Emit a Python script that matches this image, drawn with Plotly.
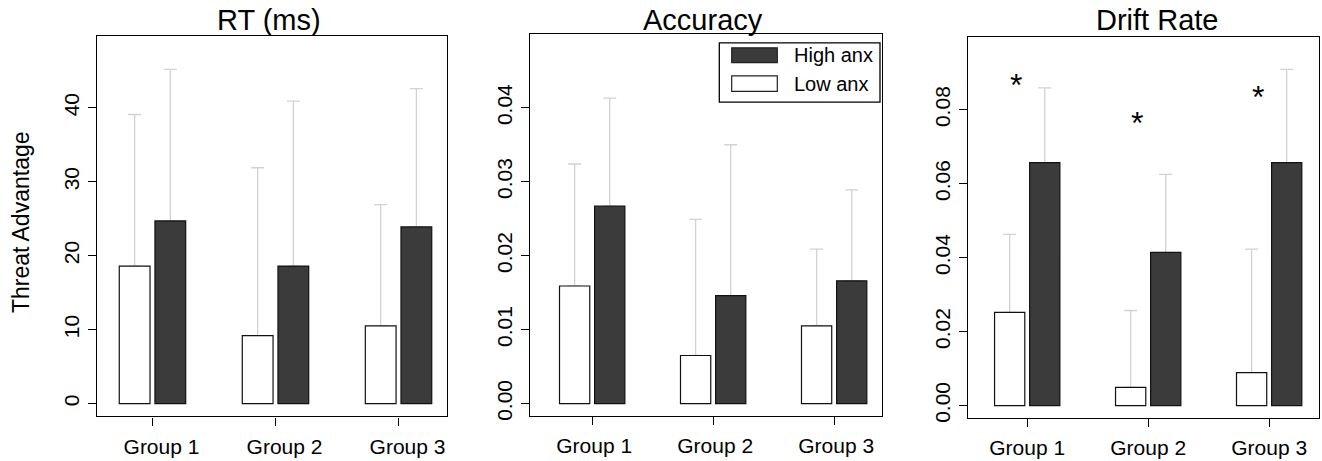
import plotly.graph_objects as go

groups = ["Group 1", "Group 2", "Group 3"]
series_names = ["High anx", "Low anx"]

rt_low = [18.6, 9.2, 10.5]
rt_high = [24.7, 18.6, 23.9]
rt_low_upper = [39.1, 31.9, 26.9]
rt_high_upper = [45.2, 40.9, 42.6]

acc_low = [0.0159, 0.0065, 0.0105]
acc_high = [0.0267, 0.0146, 0.0166]
acc_low_upper = [0.0324, 0.0249, 0.0209]
acc_high_upper = [0.0413, 0.0350, 0.0289]

drift_low = [0.0252, 0.0049, 0.0089]
drift_high = [0.0657, 0.0414, 0.0657]
drift_low_upper = [0.0463, 0.0257, 0.0423]
drift_high_upper = [0.0859, 0.0625, 0.0909]

drift_star_y = [0.0883, 0.0780, 0.0852]

panel_titles = ["RT (ms)", "Accuracy", "Drift Rate"]
y_title = "Threat Advantage"
rt_ticks = [0, 10, 20, 30, 40]
acc_ticks = [0.00, 0.01, 0.02, 0.03, 0.04]
drift_ticks = [0.00, 0.02, 0.04, 0.06, 0.08]

W, H = 1322, 461
FONT = "Liberation Sans, Arial, Helvetica, sans-serif"
DARK = "#3b3b3b"
ERR = "#d2d2d2"
BW = 0.25
OFF = 0.145

panels = [
    dict(low=rt_low, high=rt_high, lu=rt_low_upper, hu=rt_high_upper, ticks=rt_ticks, fmt="d",
         px=(97, 447), py=(36, 421), xr=(0.549, 3.394), yr=(-1.739, 49.77), shift=9),
    dict(low=acc_low, high=acc_high, lu=acc_low_upper, hu=acc_high_upper, ticks=acc_ticks, fmt=".2f",
         px=(530, 881.7), py=(34.3, 420.7), xr=(0.486, 3.393), yr=(-0.0017, 0.04999), shift=2),
    dict(low=drift_low, high=drift_high, lu=drift_low_upper, hu=drift_high_upper, ticks=drift_ticks, fmt=".2f",
         px=(967.7, 1319), py=(37.7, 422.7), xr=(0.508, 3.412), yr=(-0.0034, 0.0996), shift=0),
]

fig = go.Figure()
gx = [i + 1 for i in range(len(groups))]

for k, p in enumerate(panels):
    xa = "x" if k == 0 else f"x{k+1}"
    ya = "y" if k == 0 else f"y{k+1}"
    xl = [g - OFF for g in gx]
    xh = [g + OFF for g in gx]
    # error bars first (drawn beneath the bars)
    for xs, vals, up in ((xl, p["low"], p["lu"]), (xh, p["high"], p["hu"])):
        fig.add_trace(go.Bar(
            x=xs, y=vals, width=BW, xaxis=xa, yaxis=ya, showlegend=False, hoverinfo="skip",
            marker=dict(color="rgba(0,0,0,0)", line=dict(width=0)),
            error_y=dict(type="data", symmetric=False,
                         array=[u - v for u, v in zip(up, vals)],
                         arrayminus=[0] * len(vals),
                         color=ERR, thickness=1.3, width=6.5)))
    fig.add_trace(go.Bar(x=xl, y=p["low"], width=BW, xaxis=xa, yaxis=ya, name=series_names[1],
                         showlegend=False,
                         marker=dict(color="white", line=dict(color="#111111", width=1.2))))
    fig.add_trace(go.Bar(x=xh, y=p["high"], width=BW, xaxis=xa, yaxis=ya, name=series_names[0],
                         showlegend=False,
                         marker=dict(color=DARK, line=dict(color="#111111", width=1.2))))

    xd = [p["px"][0] / W, p["px"][1] / W]
    yd = [1 - p["py"][1] / H, 1 - p["py"][0] / H]
    axis_common = dict(showgrid=False, zeroline=False, showline=True, linecolor="black",
                       linewidth=1.3, mirror=True, ticks="outside", ticklen=8, tickwidth=1.3,
                       tickcolor="black", tickfont=dict(family=FONT, size=21, color="black"))
    xkey = "xaxis" if k == 0 else f"xaxis{k+1}"
    ykey = "yaxis" if k == 0 else f"yaxis{k+1}"
    fig.update_layout({
        xkey: dict(domain=xd, range=list(p["xr"]), anchor=ya, tickvals=gx, ticktext=groups,
                   ticklabelshift=p["shift"], ticklabelstandoff=3, **axis_common),
        ykey: dict(domain=yd, range=list(p["yr"]), anchor=xa, tickvals=p["ticks"],
                   tickformat=p["fmt"], tickangle=-90, **axis_common),
    })

# significance stars on drift panel
for g, sy in zip(gx, drift_star_y):
    fig.add_annotation(x=g - 0.09, y=sy, xref="x3", yref="y3", text="*", showarrow=False,
                       font=dict(family=FONT, size=32, color="black"), yshift=-6)

# panel titles
title_x = [268.5, 703.3, 1156.7]
for t, tx in zip(panel_titles, title_x):
    fig.add_annotation(x=tx / W, y=1 - 31 / H, xref="paper", yref="paper", text=t,
                       showarrow=False, xanchor="center", yanchor="bottom",
                       font=dict(family=FONT, size=29, color="black"), yshift=-7)

# y axis title
fig.add_annotation(x=21 / W, y=1 - 224.5 / H, xref="paper", yref="paper", text=y_title,
                   textangle=-90, showarrow=False, xanchor="center", yanchor="middle",
                   font=dict(family=FONT, size=23, color="black"))

# legend (R-style box inside accuracy panel)
fig.add_shape(type="rect", xref="paper", yref="paper",
              x0=719.3 / W, x1=880 / W, y0=1 - 103.3 / H, y1=1 - 43.3 / H,
              line=dict(color="black", width=1.3), fillcolor="white", layer="above")
leg_items = [(series_names[0], DARK, 48.3, 63.3), (series_names[1], "white", 76.7, 92.3)]
for name, col, t0, t1 in leg_items:
    fig.add_shape(type="rect", xref="paper", yref="paper",
                  x0=731.7 / W, x1=777.3 / W, y0=1 - t1 / H, y1=1 - t0 / H,
                  line=dict(color="#222222", width=1.2), fillcolor=col, layer="above")
    fig.add_annotation(x=791.5 / W, y=1 - (t0 + t1) / 2 / H, xref="paper", yref="paper",
                       text=name, showarrow=False, xanchor="left", yanchor="middle",
                       font=dict(family=FONT, size=20, color="black"))

fig.update_layout(width=W, height=H, autosize=False, barmode="overlay",
                  margin=dict(l=0, r=0, t=0, b=0),
                  paper_bgcolor="white", plot_bgcolor="white",
                  font=dict(family=FONT, color="black"))

fig.write_html("out.html", config={"displayModeBar": False},
               post_script="document.body.style.margin='0';document.body.style.padding='0';"
                           "document.body.style.overflow='hidden';")
